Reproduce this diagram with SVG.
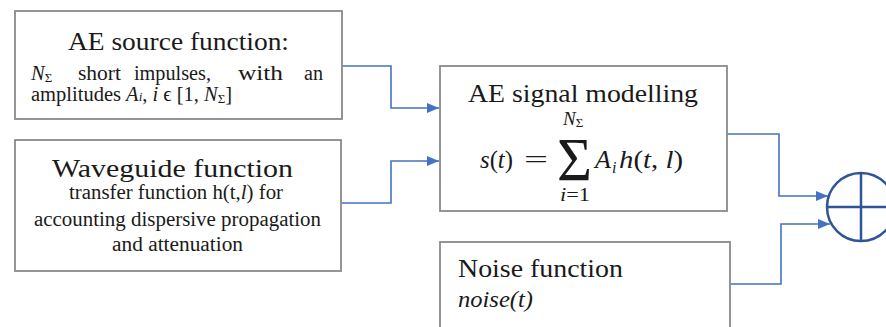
<svg xmlns="http://www.w3.org/2000/svg" width="886" height="327" viewBox="0 0 886 327">
<style>
.box{fill:#fff;stroke:#8a8a8a;stroke-width:1.8}
.t{font-family:"Liberation Serif","Times New Roman",serif;fill:#1a1a1a}
.ttl{font-size:25px}
.sub{font-size:20.5px}
.it{font-style:italic}
.m{font-family:"Liberation Serif","Times New Roman",serif;fill:#1a1a1a}
.conn{fill:none;stroke:#4472C4;stroke-width:1.6}
.sum{fill:#fff;stroke:#2F5597;stroke-width:2.5}
.sumx{fill:none;stroke:#2F5597;stroke-width:2.5}
</style>
<defs>
<marker id="arr" markerUnits="userSpaceOnUse" markerWidth="13" markerHeight="11" refX="12" refY="5" orient="auto">
<path d="M0,0 L12,5 L0,10 z" fill="#4472C4"/>
</marker>
</defs>
<rect width="886" height="327" fill="#fff"/>
<g id="connectors">
<path class="conn" d="M342,66 H391 V108 H439" marker-end="url(#arr)"/>
<path class="conn" d="M341,203 H391 V161 H439" marker-end="url(#arr)"/>
<path class="conn" d="M727,134 H779 V196 H828" marker-end="url(#arr)"/>
<path class="conn" d="M730,284 H781 V224 H830" marker-end="url(#arr)"/>
</g>
<g id="source">
<rect class="box" x="15" y="11" width="327" height="108"/>
<text class="t ttl" x="68" y="50" textLength="221" lengthAdjust="spacingAndGlyphs">AE source function:</text>
<text class="t sub" y="80"><tspan class="it" x="31">N</tspan><tspan style="font-size:13px" dy="2">Σ</tspan></text>
<text class="t sub" x="78" y="80" textLength="43" lengthAdjust="spacingAndGlyphs">short</text>
<text class="t sub" x="134" y="80" textLength="77" lengthAdjust="spacingAndGlyphs">impulses,</text>
<text class="t sub" x="238" y="80" textLength="45" lengthAdjust="spacingAndGlyphs">with</text>
<text class="t sub" x="304" y="80" textLength="19" lengthAdjust="spacingAndGlyphs">an</text>
<text class="t sub" x="31" y="101">amplitudes <tspan class="it">A</tspan><tspan class="it" style="font-size:13px">i</tspan>, <tspan class="it">i</tspan> ϵ [1, <tspan class="it">N</tspan><tspan style="font-size:13px" dy="2">Σ</tspan><tspan dy="-2">]</tspan></text>
</g>
<g id="waveguide">
<rect class="box" x="15" y="140" width="326" height="131"/>
<text class="t ttl" x="52" y="177" textLength="241" lengthAdjust="spacingAndGlyphs">Waveguide function</text>
<text class="t sub" x="69" y="199" textLength="214" lengthAdjust="spacingAndGlyphs">transfer function h(t,<tspan class="it">l</tspan>) for</text>
<text class="t sub" x="34" y="226" textLength="287" lengthAdjust="spacingAndGlyphs">accounting dispersive propagation</text>
<text class="t sub" x="112" y="251" textLength="131" lengthAdjust="spacingAndGlyphs">and attenuation</text>
</g>
<g id="modelling">
<rect class="box" x="440" y="66" width="287" height="145"/>
<text class="t ttl" x="468" y="102" textLength="230" lengthAdjust="spacingAndGlyphs">AE signal modelling</text>
<text class="m" x="480" y="168" font-size="26" textLength="33" lengthAdjust="spacingAndGlyphs"><tspan class="it">s</tspan>(<tspan class="it">t</tspan>)</text>
<text class="m" x="524" y="168" font-size="26" textLength="24" lengthAdjust="spacingAndGlyphs">=</text>
<text class="m" x="557" y="180" font-size="62" textLength="35" lengthAdjust="spacingAndGlyphs">Σ</text>
<text class="m" x="563" y="125" font-size="19"><tspan class="it">N</tspan><tspan font-size="13" dy="2">Σ</tspan></text>
<text class="m" x="560" y="201" font-size="19" textLength="30" lengthAdjust="spacingAndGlyphs"><tspan class="it">i</tspan>=1</text>
<text class="m it" x="595" y="168" font-size="26">A</text>
<text class="m it" x="612" y="173" font-size="16">i</text>
<text class="m" x="619" y="168" font-size="26" textLength="64" lengthAdjust="spacingAndGlyphs"><tspan class="it">h</tspan>(<tspan class="it">t</tspan>, <tspan class="it">l</tspan>)</text>
</g>
<g id="noise">
<rect class="box" x="440" y="242" width="290" height="100"/>
<text class="t ttl" x="458" y="277" textLength="165" lengthAdjust="spacingAndGlyphs">Noise function</text>
<text class="t it" x="458" y="307" font-size="23" textLength="75" lengthAdjust="spacingAndGlyphs">noise(t)</text>
</g>
<g id="summer">
<circle class="sum" cx="861" cy="207" r="34"/>
<path class="sumx" d="M827,207 H895 M861,173 V241"/>
</g>
</svg>
